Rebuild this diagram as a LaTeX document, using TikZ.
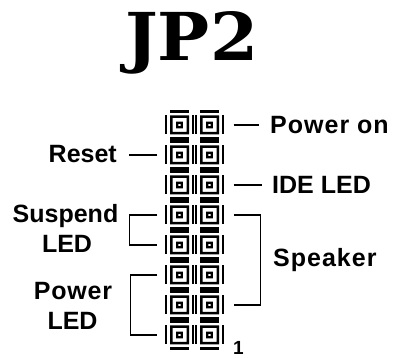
\documentclass[tikz,border=0pt]{standalone}
\usepackage{graphicx}
\usepackage{fontspec}
\setmainfont{Liberation Sans}
\newfontfamily\jpfont{DejaVu Serif}
\usetikzlibrary{calc}
\begin{document}
\begin{tikzpicture}[x=1pt,y=-1pt,
  conn/.style={line width=1.3pt},
  lbl/.style={inner sep=0pt, font=\fontsize{25}{30}\selectfont\bfseries},
  hdrpin/.style={minimum size=30pt, inner sep=0pt, path picture={
    \begin{scope}[shift={(path picture bounding box.center)}]
      \fill (-9.5,-14.8) rectangle (9.5,-12.3);
      \fill (-9.5,12.3) rectangle (9.5,14.8);
      \fill (-14.8,-9.5) rectangle (-12.3,9.5);
      \fill (12.3,-9.5) rectangle (14.8,9.5);
      \fill[even odd rule] (-9.5,-9.5) rectangle (9.5,9.5) (-7,-7) rectangle (7,7);
      \fill[even odd rule] (-3.3,-3.3) rectangle (3.3,3.3) (-1.2,-1.2) rectangle (1.2,1.2);
    \end{scope}}}]
  \useasboundingbox[fill=white] (0,0) rectangle (394,358);

  \node[inner sep=0pt, anchor=base west] (title) at (125,61)
    {\resizebox{133pt}{49pt}{\jpfont\bfseries JP2}};

  \foreach \i in {1,...,8} {
    \node[hdrpin] (L\i) at (179.5,{125+30*(\i-1)}) {};
    \node[hdrpin] (R\i) at (209.5,{125+30*(\i-1)}) {};
  }

  \node[lbl, anchor=base west] (pwron) at (270,134) {\addfontfeatures{LetterSpace=4}Power on};
  \node[lbl, anchor=base west] (ide) at (272,194) {IDE LED};
  \node[lbl, anchor=base east] (reset) at (117,163) {Reset};
  \node[lbl, anchor=base west] (spk) at (273,267) {\addfontfeatures{LetterSpace=4}Speaker};
  \node[lbl, anchor=base] (susp1) at (65.5,223) {Suspend};
  \node[lbl, anchor=base] (susp2) at (67,253) {LED};
  \node[lbl, anchor=base] (pw1) at (73,300) {\addfontfeatures{LetterSpace=3}Power};
  \node[lbl, anchor=base] (pw2) at (72.5,330) {LED};
  \node[inner sep=0pt, font=\fontsize{19}{22}\selectfont\bfseries, anchor=base west] (one) at (233,355) {1};

  % right side connectors
  \draw[conn] ([xshift=9pt]R1.east) -- ([xshift=34pt]R1.east);
  \draw[conn] ([xshift=9pt]R3.east) -- ([xshift=37pt]R3.east);
  \draw[conn] ([xshift=9pt]R4.east) -| ([xshift=36pt]R7.east) -- ([xshift=9pt]R7.east);
  % left side connectors
  \draw[conn] ([xshift=-7pt]L2.west) -- ([xshift=-35pt]L2.west);
  \draw[conn] ([xshift=-7pt]L4.west) -| ([xshift=-35pt]L5.west) -- ([xshift=-7pt]L5.west);
  \draw[conn] ([xshift=-7pt]L6.west) -| ([xshift=-34pt]L8.west) -- ([xshift=-7pt]L8.west);
\end{tikzpicture}
\end{document}
